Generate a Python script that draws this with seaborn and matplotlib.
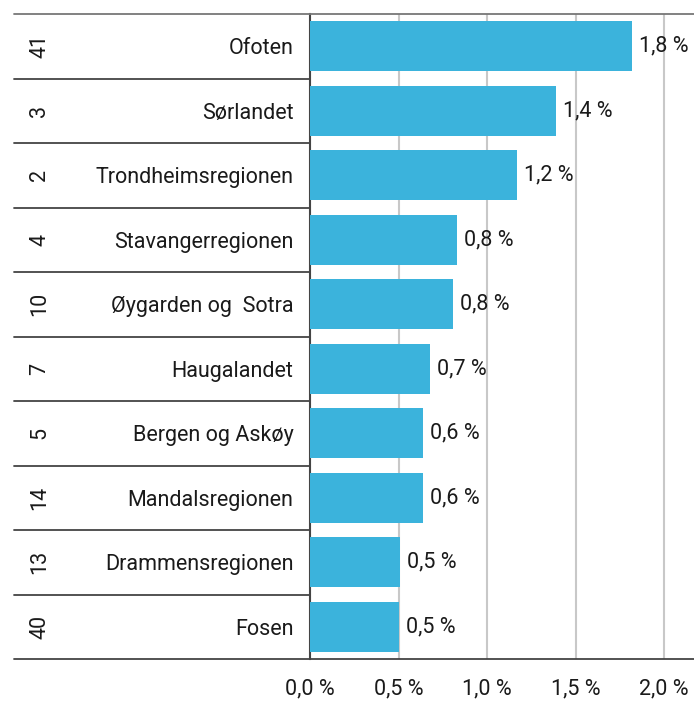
import pandas as pd
import seaborn as sns
import matplotlib.pyplot as plt
from matplotlib.transforms import blended_transform_factory

sns.set_style('white')
plt.rcParams['font.family'] = ['Roboto', 'DejaVu Sans']

regions = ['Ofoten', 'Sørlandet', 'Trondheimsregionen', 'Stavangerregionen', 'Øygarden og  Sotra',
           'Haugalandet', 'Bergen og Askøy', 'Mandalsregionen', 'Drammensregionen', 'Fosen']
ranks = ['41', '3', '2', '4', '10', '7', '5', '14', '13', '40']
values = [1.82, 1.39, 1.17, 0.83, 0.81, 0.68, 0.64, 0.64, 0.51, 0.50]
value_labels = ['1,8 %', '1,4 %', '1,2 %', '0,8 %', '0,8 %', '0,7 %', '0,6 %', '0,6 %', '0,5 %', '0,5 %']
xticks = [0.0, 0.5, 1.0, 1.5, 2.0]
xtick_labels = ['0,0 %', '0,5 %', '1,0 %', '1,5 %', '2,0 %']

df = pd.DataFrame({'region': regions, 'value': values})

W, H = 694, 704
FS = 15.5
fig = plt.figure(figsize=(W / 100, H / 100), dpi=100)
ax = fig.add_axes([310 / W, 1 - 659 / H, 1 - 310 / W, (659 - 14) / H])

sns.barplot(data=df, x='value', y='region', color='#3bb3dc', saturation=1, width=0.78,
            linewidth=0, ax=ax, zorder=3)

ax.set_xlim(0, 384 / 177)
ax.set_ylim(len(regions) - 0.5, -0.5)
ax.set_xticks(xticks, xtick_labels, fontsize=FS)
ax.grid(axis='x', color='#c8c8c8', linewidth=1.5, zorder=0)
ax.set_axisbelow(True)
ax.tick_params(axis='x', length=0, pad=14, colors='#1a1a1a')
ax.tick_params(axis='y', length=0, pad=12, labelsize=FS, colors='#1a1a1a')
ax.set_xlabel('')
ax.set_ylabel('')
for s in ['top', 'right', 'bottom']:
    ax.spines[s].set_visible(False)
ax.spines['left'].set_color('#444444')
ax.spines['left'].set_linewidth(1.5)

for i, (v, lab) in enumerate(zip(values, value_labels)):
    ax.text(v + 0.04, i, lab, va='center', ha='left', fontsize=FS, color='#1a1a1a')

# left table: rank numbers and row separators
tr = blended_transform_factory(fig.transFigure, ax.transData)
for i, r in enumerate(ranks):
    ax.text(40 / W, i, r, rotation=90, va='center', ha='center', fontsize=FS,
            color='#1a1a1a', transform=tr)
for b in range(len(regions) + 1):
    y = b - 0.5
    x1 = 1.0 if b in (0, len(regions)) else 310 / W
    col = '#777777' if b == 0 else '#444444'
    ax.plot([14 / W, x1], [y, y], color=col, linewidth=1.3, transform=tr, clip_on=False, zorder=5)

fig.savefig('out.png', dpi=100)
